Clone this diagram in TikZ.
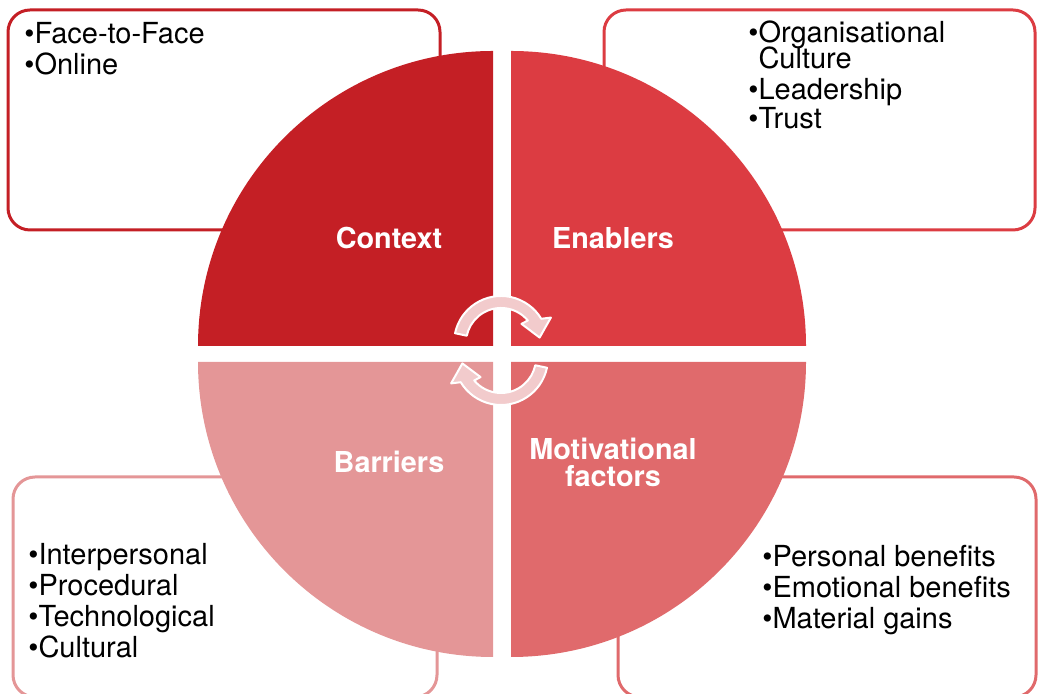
\documentclass[tikz,border=0pt]{standalone}
\usepackage{fontspec}
\setmainfont{TeX Gyre Heros}
\usepackage{xcolor}
\definecolor{ctx}{HTML}{C41F25}
\definecolor{enb}{HTML}{DC3C42}
\definecolor{mot}{HTML}{E06A6C}
\definecolor{bar}{HTML}{E49697}
\definecolor{rosepale}{HTML}{F2CBCC}

\begin{document}
\begin{tikzpicture}[x=0.5pt,y=0.5pt,
	cadre/.style={draw,line width=1.5pt,fill=white,rounded corners=11pt},
	titre/.style={text=white,align=center,font=\bfseries\fontsize{14.4}{13.5}\selectfont},
	liste/.style={anchor=base west,align=left,inner sep=0pt,font=\fontsize{14.5}{15.6}\selectfont},
	fleche/.style={fill=rosepale,draw=white,line width=1pt,line join=round}]
	\clip (0,0) rectangle (1038,694);
	% cadres des listes
	\draw[cadre,draw=ctx] (8,464) rectangle (440,684);
	\draw[cadre,draw=enb] (604,464) rectangle (1035,684);
	\draw[cadre,draw=bar] (13,-3) rectangle (437,217);
	\draw[cadre,draw=mot] (618,-3) rectangle (1036,217);
	% quarts de disque
	\foreach \coin/\debut/\couleur in
	{{(493,348)}/90/ctx,
	{(511,348)}/0/enb,
	{(511,332)}/270/mot,
	{(493,332)}/180/bar}
		{\fill[\couleur] \coin -- ++(\debut:295) arc[start angle=\debut, delta angle=90, radius=295] -- cycle;}
	\node[titre] (context) at (389,456) {Context};
	\node[titre] (enablers) at (613,456) {Enablers};
	\node[titre] (barriers) at (389,232) {Barriers};
	\node[titre] (motivation) at (613,232) {Motivational\\factors};
	% fleches circulaires
	\foreach \centre/\rot in {{(501,351)}/0, {(501,336)}/180}
		{\path[fleche,shift=\centre,rotate=\rot] (168:47) arc[start angle=168, end angle=31, radius=47]
			-- (27:56) -- (8:39) -- (43:28) -- (40:35) arc[start angle=40, end angle=168, radius=35] -- cycle;}
	% listes (ancre sur la derniere ligne)
	\node[liste] (face) at (24,619) {\textbullet Face-to-Face\\\textbullet Online};
	\node[liste] (orga) at (748,565) {\textbullet Organisational\\[-2.5pt]
		\phantom{\textbullet}Culture\\\textbullet Leadership\\[-1pt]\textbullet Trust};
	\node[liste] (inter) at (28,36) {\textbullet Interpersonal\\\textbullet Procedural\\
		\textbullet Technological\\\textbullet Cultural};
	\node[liste] (perso) at (762,65) {\textbullet Personal benefits\\\textbullet Emotional benefits\\
		\textbullet Material gains};
\end{tikzpicture}
\end{document}
